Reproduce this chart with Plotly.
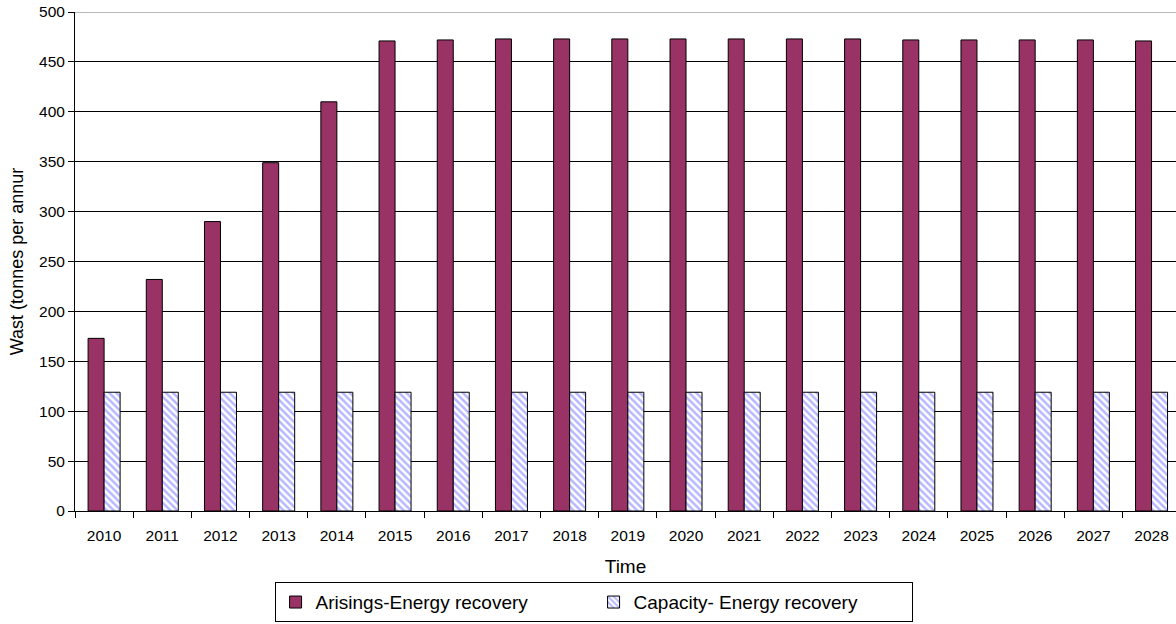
import plotly.graph_objects as go

years = [str(y) for y in range(2010, 2029)]
arisings = [173, 232, 290, 349, 410, 471, 472, 473, 473, 473, 473, 473, 473, 473, 472, 472, 472, 472, 471]
capacity = [119] * 19
y_ticks = [0, 50, 100, 150, 200, 250, 300, 350, 400, 450, 500]
Y_MAX = 500

font = "Liberation Sans, Arial, sans-serif"

fig = go.Figure()
fig.add_trace(go.Bar(
    x=years, y=arisings, name="Arisings-Energy recovery",
    marker=dict(color="#993366", line=dict(color="black", width=1)),
))
fig.add_trace(go.Bar(
    x=years, y=capacity, name="Capacity- Energy recovery",
    marker=dict(color="white", line=dict(color="black", width=1),
                pattern=dict(shape="\\", fgcolor="#6f6fff", bgcolor="white", size=5, solidity=0.5)),
))

fig.update_layout(
    width=1176, height=624,
    margin=dict(l=75, r=0, t=12, b=113),
    paper_bgcolor="white", plot_bgcolor="white",
    barmode="group", bargap=0.45, bargroupgap=0.0,
    font=dict(family=font, size=15, color="black"),
    showlegend=True,
    legend=dict(orientation="h", x=0.471, xanchor="center", yref="container", y=0.067, yanchor="top",
                bordercolor="black", borderwidth=1, font=dict(size=19),
                itemwidth=30, traceorder="normal", entrywidth=273),
    xaxis=dict(range=[-0.5, 18.42], showline=True, linecolor="black", linewidth=1,
               ticks="outside", tickson="boundaries", ticklen=6, tickcolor="black",
               showgrid=False, automargin=False, ticklabelstandoff=10,
               title=dict(text="Time", font=dict(size=19), standoff=17),
               tickfont=dict(size=15.5)),
    yaxis=dict(range=[0, Y_MAX], tickvals=y_ticks, showline=True, linecolor="black", linewidth=1,
               ticks="outside", ticklen=6, tickcolor="black", gridcolor="black", gridwidth=1,
               zeroline=False, automargin=False,
               title=dict(text="Wast (tonnes per annur", font=dict(size=18), standoff=10),
               tickfont=dict(size=15.5)),
    shapes=[dict(type="line", xref="paper", yref="y", x0=0, x1=1, y0=Y_MAX, y1=Y_MAX,
                 line=dict(color="#a0a0a0", width=1.5), layer="above")],
)

fig.write_html("out.html", config={"displayModeBar": False},
               post_script="document.body.style.margin='0px';document.body.style.overflow='hidden';")
